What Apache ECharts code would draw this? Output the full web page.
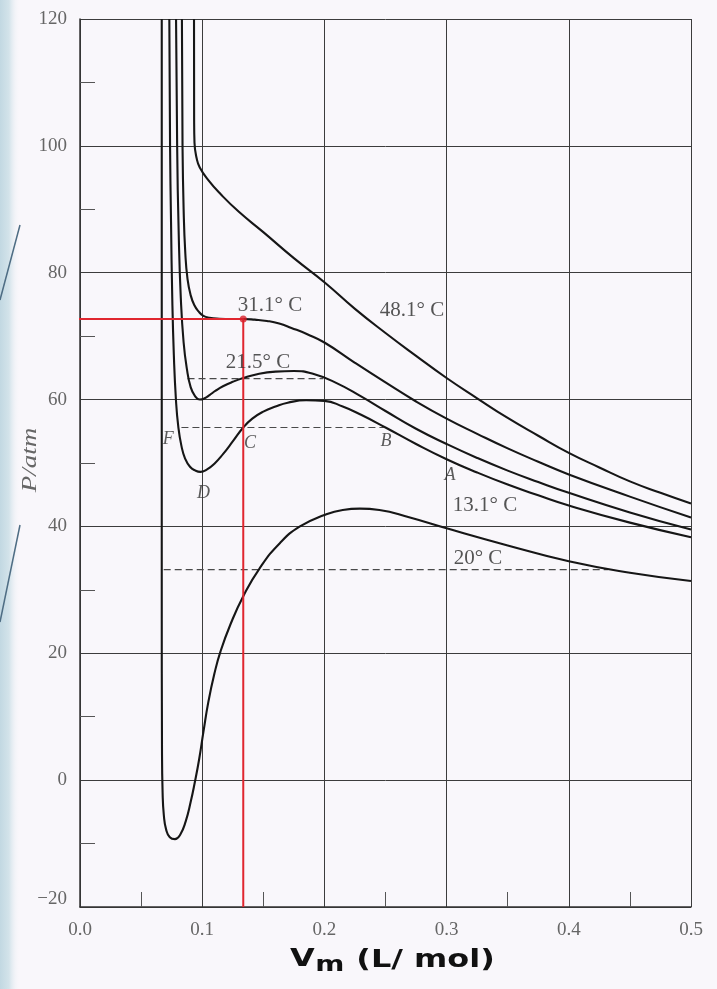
<!DOCTYPE html>
<html>
<head>
<meta charset="utf-8">
<script src="https://cdn.jsdelivr.net/npm/echarts@6/dist/echarts.min.js"></script>
<style>
  html, body { margin: 0; padding: 0; background: #f9f7fb; }
  #chart { width: 717px; height: 989px; }
</style>
</head>
<body>
<div id="chart"></div>
<script>
// Van der Waals isotherms of CO2: molar volume (L/mol) against pressure (atm)
const isoA_V = [0.0669, 0.0669, 0.0671, 0.0676, 0.0686, 0.0705, 0.0735, 0.0777, 0.0820, 0.0865, 0.0905, 0.0940, 0.0975, 0.1010, 0.1050, 0.1100, 0.1150, 0.1230, 0.1336, 0.1470, 0.1637, 0.1800, 0.2000, 0.2150, 0.2290, 0.2450, 0.2700, 0.3000, 0.3500, 0.4000, 0.4500, 0.5000];
const isoA_P = [120, 30, 5, -2, -5.5, -7.8, -9.0, -9.3, -8.6, -6.5, -3.5, -0.3, 3.3, 7.6, 12.3, 16.8, 20.3, 24.5, 29.0, 33.4, 37.4, 40.0, 41.8, 42.6, 42.8, 42.6, 41.4, 39.7, 37.0, 34.5, 32.7, 31.4];

const isoB_V = [0.0731, 0.0737, 0.0745, 0.0755, 0.0768, 0.0785, 0.0805, 0.0830, 0.0860, 0.0900, 0.0945, 0.0985, 0.1040, 0.1100, 0.1170, 0.1250, 0.1336, 0.1410, 0.1500, 0.1600, 0.1700, 0.1850, 0.2000, 0.2150, 0.2300, 0.2500, 0.2750, 0.3000, 0.3250, 0.3500, 0.3750, 0.4000, 0.4500, 0.5000];
const isoB_P = [120, 100, 88, 76, 67, 60, 55.6, 52.7, 50.7, 49.4, 48.8, 48.6, 49.0, 49.9, 51.4, 53.4, 55.6, 57.0, 58.1, 58.9, 59.5, 59.9, 59.8, 58.9, 57.6, 55.6, 53.0, 50.6, 48.5, 46.6, 44.9, 43.3, 40.6, 38.3];

const isoC_V = [0.0786, 0.0795, 0.0808, 0.0825, 0.0848, 0.0875, 0.0905, 0.0940, 0.0980, 0.1020, 0.1060, 0.1110, 0.1170, 0.1250, 0.1336, 0.1450, 0.1600, 0.1750, 0.1900, 0.2100, 0.2300, 0.2500, 0.2750, 0.3000, 0.3250, 0.3500, 0.3750, 0.4000, 0.4500, 0.5000];
const isoC_P = [120, 100, 86, 76, 69, 64.8, 62.0, 60.6, 60.0, 60.2, 60.7, 61.4, 62.1, 62.8, 63.4, 64.0, 64.4, 64.5, 64.1, 62.6, 60.5, 58.2, 55.4, 53.0, 50.8, 48.8, 47.0, 45.3, 42.2, 39.5];

const isoD_V = [0.0834, 0.0839, 0.0848, 0.0862, 0.0880, 0.0905, 0.0935, 0.0970, 0.1010, 0.1060, 0.1140, 0.1240, 0.1336, 0.1430, 0.1530, 0.1630, 0.1730, 0.1860, 0.2000, 0.2250, 0.2500, 0.2750, 0.3000, 0.3250, 0.3500, 0.3750, 0.4000, 0.4500, 0.5000];
const isoD_P = [120, 100, 90, 83, 79, 76.5, 74.9, 73.9, 73.2, 72.9, 72.75, 72.7, 72.7, 72.6, 72.4, 72.0, 71.3, 70.3, 69.0, 65.8, 62.7, 59.7, 57.0, 54.6, 52.3, 50.2, 48.2, 44.7, 41.4];

const isoE_V = [0.0933, 0.0934, 0.0937, 0.0955, 0.0980, 0.1050, 0.1150, 0.1300, 0.1500, 0.1750, 0.2000, 0.2250, 0.2500, 0.2750, 0.3000, 0.3250, 0.3500, 0.3750, 0.4000, 0.4250, 0.4500, 0.4750, 0.5000];
const isoE_P = [120, 104, 100.5, 98, 96.6, 94.6, 92.4, 89.6, 86.4, 82.3, 78.5, 74.3, 70.5, 66.9, 63.4, 60.2, 57.1, 54.3, 51.6, 49.3, 47.1, 45.3, 43.6];

// Horizontal tie lines (dashed): pressure and volume range
const tieP = [63.3, 55.6, 33.2];
const tieFrom = [0.088, 0.083, 0.0685];
const tieTo = [0.199, 0.2486, 0.432];

// Critical point guide (red)
const guideV = 0.1336;
const guideP = 72.7;
const guideStartV = -0.0065;

// Isotherm labels
const labelText = ['31.1° C', '48.1° C', '21.5° C', '13.1° C', '20° C'];
const labelV = [0.1555, 0.2717, 0.1457, 0.3314, 0.3257];
const labelP = [74.8, 74.0, 65.8, 43.3, 35.0];

// Point letters
const pointText = ['A', 'B', 'C', 'D', 'F'];
const pointV = [0.3028, 0.2504, 0.1391, 0.1010, 0.0723];
const pointP = [48.0, 53.5, 53.1, 45.2, 53.8];

const pairs = (xs, ys) => xs.map((x, i) => [x, ys[i]]);
const serif = 'Liberation Serif, Times New Roman, serif';

const isotherms = [
  [isoA_V, isoA_P], [isoB_V, isoB_P], [isoC_V, isoC_P], [isoD_V, isoD_P], [isoE_V, isoE_P]
];

const series = [];

isotherms.forEach(([v, p]) => {
  series.push({
    type: 'line',
    data: pairs(v, p),
    smooth: 0.5,
    showSymbol: false,
    silent: true,
    z: 3,
    lineStyle: { color: '#161616', width: 2.1 }
  });
});

tieP.forEach((p, i) => {
  series.push({
    type: 'line',
    data: [[tieFrom[i], p], [tieTo[i], p]],
    showSymbol: false,
    silent: true,
    z: 2,
    lineStyle: { color: '#4a4a4a', width: 1.2, type: [7, 4] }
  });
});

series.push({
  type: 'line',
  data: [[guideStartV, guideP], [guideV, guideP], [guideV, -20]],
  showSymbol: false,
  silent: true,
  clip: false,
  z: 5,
  lineStyle: { color: '#e0262f', width: 2 }
});

series.push({
  type: 'scatter',
  data: [[guideV, guideP]],
  symbolSize: 7,
  silent: true,
  z: 6,
  itemStyle: { color: '#d8202a' }
});

series.push({
  type: 'scatter',
  data: labelText.map((t, i) => ({ value: [labelV[i], labelP[i]], name: t })),
  symbolSize: 1,
  silent: true,
  z: 7,
  itemStyle: { color: 'rgba(0,0,0,0)' },
  label: {
    show: true,
    position: 'inside',
    formatter: '{b}',
    fontFamily: serif,
    fontSize: 21,
    color: '#2b2b2b'
  }
});

series.push({
  type: 'scatter',
  data: pointText.map((t, i) => ({ value: [pointV[i], pointP[i]], name: t })),
  symbolSize: 1,
  silent: true,
  z: 7,
  itemStyle: { color: 'rgba(0,0,0,0)' },
  label: {
    show: true,
    position: 'inside',
    formatter: '{b}',
    fontFamily: serif,
    fontStyle: 'italic',
    fontSize: 18,
    color: '#333'
  }
});

const gridColor = '#3c3c3c';

const option = {
  backgroundColor: '#f9f7fb',
  animation: false,
  grid: { left: 80, right: 26, top: 19, bottom: 82 },
  xAxis: {
    type: 'value',
    min: 0,
    max: 0.5,
    interval: 0.1,
    axisLine: { show: true, onZero: false, lineStyle: { color: '#333', width: 1.5 } },
    axisTick: { show: false, inside: true },
    minorTick: { show: true, splitNumber: 2, length: 15, lineStyle: { color: '#555', width: 1 } },
    splitLine: { show: true, lineStyle: { color: gridColor, width: 1 } },
    axisLabel: {
      color: '#666',
      fontFamily: serif,
      fontSize: 19,
      margin: 14,
      formatter: v => v.toFixed(1)
    }
  },
  yAxis: {
    type: 'value',
    min: -20,
    max: 120,
    interval: 20,
    axisLine: { show: true, onZero: false, lineStyle: { color: '#333', width: 1.5 } },
    axisTick: { show: false, inside: true },
    minorTick: { show: true, splitNumber: 2, length: 15, lineStyle: { color: '#555', width: 1 } },
    splitLine: { show: true, lineStyle: { color: gridColor, width: 1 } },
    axisLabel: {
      color: '#666',
      fontFamily: serif,
      fontSize: 19,
      margin: 13,
      formatter: v => (v < 0 ? '{neg|−' + (-v) + '}' : String(v)),
      rich: {
        neg: { fontFamily: serif, fontSize: 19, color: '#666', padding: [0, 0, 16, 0] }
      }
    }
  },
  graphic: [
    {
      type: 'rect',
      z: -1,
      silent: true,
      shape: { x: 0, y: 0, width: 20, height: 989 },
      style: {
        fill: new echarts.graphic.LinearGradient(0, 0, 1, 0, [
          { offset: 0, color: '#c2d8e2' },
          { offset: 0.45, color: '#d3e3ea' },
          { offset: 1, color: 'rgba(249,247,251,0)' }
        ])
      }
    },
    {
      type: 'line',
      silent: true,
      shape: { x1: 0, y1: 300, x2: 20, y2: 225 },
      style: { stroke: '#4e6d84', lineWidth: 1.5 }
    },
    {
      type: 'line',
      silent: true,
      shape: { x1: 0, y1: 622, x2: 20, y2: 525 },
      style: { stroke: '#4e6d84', lineWidth: 1.5 }
    },
    {
      type: 'text',
      silent: true,
      x: 31,
      y: 460,
      rotation: Math.PI / 2,
      scaleX: 1.35,
      style: {
        text: 'P/atm',
        font: 'italic 20px ' + serif,
        fill: '#666',
        textAlign: 'center',
        textVerticalAlign: 'middle'
      }
    },
    {
      type: 'group',
      silent: true,
      x: 290,
      y: 960,
      scaleX: 1.33,
      children: [
        {
          type: 'text',
          x: 0,
          y: 0,
          style: { text: 'V', font: 'bold 24px DejaVu Sans', fill: '#111', textAlign: 'left', textVerticalAlign: 'middle' }
        },
        {
          type: 'text',
          x: 19,
          y: 6,
          style: { text: 'm', font: 'bold 21px DejaVu Sans', fill: '#111', textAlign: 'left', textVerticalAlign: 'middle' }
        },
        {
          type: 'text',
          x: 41.5,
          y: 1,
          style: { text: ' (L/ mol)', font: 'bold 24px DejaVu Sans', fill: '#111', textAlign: 'left', textVerticalAlign: 'middle' }
        }
      ]
    }
  ],
  series: series
};

const chart = echarts.init(document.getElementById('chart'));
chart.setOption(option);
</script>
</body>
</html>
